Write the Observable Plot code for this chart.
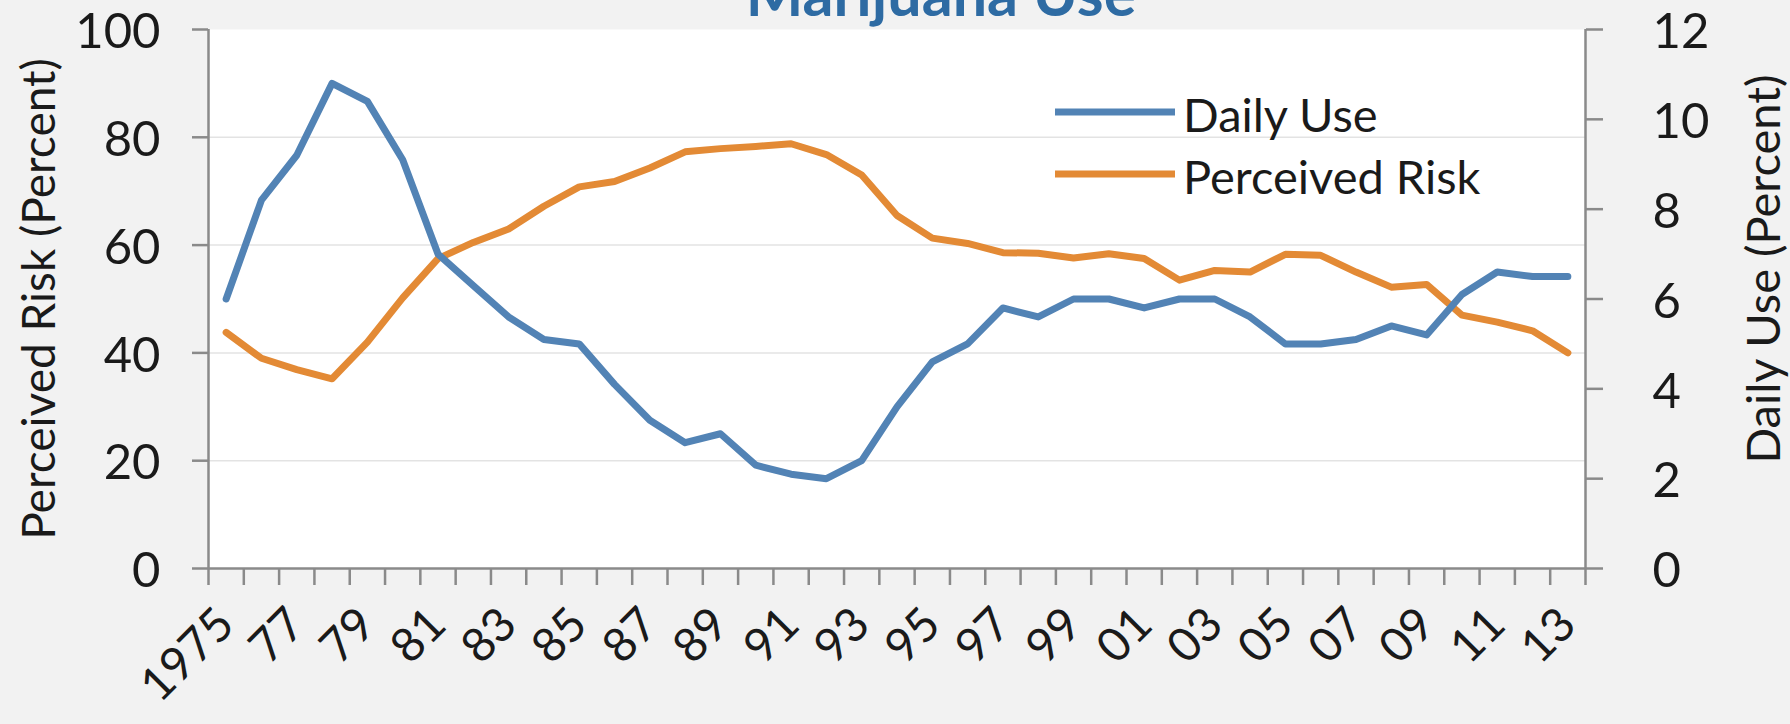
<!DOCTYPE html>
<html>
<head>
<meta charset="utf-8">
<script src="https://cdn.jsdelivr.net/npm/d3@7"></script>
<script src="https://cdn.jsdelivr.net/npm/@observablehq/plot@0.6"></script>
<style>
  html, body { margin: 0; padding: 0; background: #f2f2f2; }
  #wrap { position: relative; width: 1790px; height: 724px; overflow: hidden; background: #f2f2f2; }
  #title { position: absolute; left: 46px; top: -38px; width: 1790px; text-align: center;
           font: bold 61px/61px Lato, "Open Sans", sans-serif; color: #2e6ba3; }
  #chart { position: absolute; left: 0; top: 0; }
  #legend { position: absolute; left: 0; top: 0; pointer-events: none; }
</style>
</head>
<body>
<div id="wrap">
  <div id="chart"></div>
  <div id="title">Marijuana Use</div>
  <div id="legend"></div>
</div>
<script>
// ---- data ----
const years = d3.range(1975, 2014);
const dailyUse = [6.0, 8.2, 9.2, 10.8, 10.4, 9.1, 7.0, 6.3, 5.6, 5.1, 5.0, 4.1, 3.3, 2.8, 3.0, 2.3, 2.1, 2.0, 2.4, 3.6,
                  4.6, 5.0, 5.8, 5.6, 6.0, 6.0, 5.8, 6.0, 6.0, 5.6, 5.0, 5.0, 5.1, 5.4, 5.2, 6.1, 6.6, 6.5, 6.5];
const perceivedRisk = [43.8, 39.0, 36.9, 35.2, 42.0, 50.2, 57.5, 60.5, 63.0, 67.2, 70.8, 71.8, 74.3, 77.3, 77.9, 78.3, 78.8, 76.8, 73.0, 65.5,
                       61.3, 60.3, 58.6, 58.5, 57.6, 58.4, 57.5, 53.5, 55.3, 55.0, 58.3, 58.1, 55.0, 52.2, 52.7, 47.0, 45.7, 44.1, 40.0];
const labelYears = d3.range(1975, 2014, 2);
const labelTexts = ["1975","77","79","81","83","85","87","89","91","93","95","97","99","01","03","05","07","09","11","13"];
const leftTicks = [0, 20, 40, 60, 80, 100];
const rightTicks = [0, 2, 4, 6, 8, 10, 12];
const gridTicks = [20, 40, 60, 80];
const seriesNames = ["Daily Use", "Perceived Risk"];
const leftMax = 100, rightMax = 12;

// ---- styling ----
const blue = "#5283b5", orange = "#e38a35", axisColor = "#8a8a8a", textColor = "#1a1a1a";
const font = "Lato, 'Open Sans', sans-serif";

const toLeft = v => v * leftMax / rightMax;
const rows = years.map((y, i) => ({year: y, daily: toLeft(dailyUse[i]), risk: perceivedRisk[i]}));
const boundaries = d3.range(years[0] - 0.5, years[years.length - 1] + 1, 1);
const xDomain = [years[0] - 0.5, years[years.length - 1] + 0.5];

const plot = Plot.plot({
  width: 1790, height: 724,
  marginLeft: 208, marginRight: 205, marginTop: 29, marginBottom: 156,
  style: {fontFamily: font, background: "transparent", color: textColor},
  x: {type: "linear", domain: xDomain, axis: null},
  y: {domain: [0, leftMax], axis: null},
  marks: [
    Plot.frame({fill: "white", stroke: null}),
    Plot.gridY(gridTicks, {stroke: "#e3e3e3", strokeOpacity: 1, strokeWidth: 1.5}),
    Plot.line(rows, {x: "year", y: "risk", stroke: orange, strokeWidth: 7}),
    Plot.line(rows, {x: "year", y: "daily", stroke: blue, strokeWidth: 7}),
    Plot.ruleX(xDomain, {stroke: axisColor, strokeWidth: 2.5}),
    Plot.ruleY([0], {stroke: axisColor, strokeWidth: 2.5}),
    // left axis ticks + labels
    Plot.axisY(leftTicks, {anchor: "left", tickSize: 16, tickFormat: () => "",
      stroke: axisColor, strokeWidth: 2.5, label: null}),
    Plot.text(leftTicks, {y: d => d, text: d => String(d), frameAnchor: "left", textAnchor: "end",
      lineAnchor: "middle", dx: -48, dy: 3, fontSize: 49, fill: textColor}),
    // right axis ticks + labels
    Plot.axisY(rightTicks.map(toLeft), {anchor: "right", tickSize: 17, tickFormat: () => "",
      stroke: axisColor, strokeWidth: 2.5, label: null}),
    Plot.text(rightTicks, {y: d => toLeft(d), text: d => String(d), frameAnchor: "right", textAnchor: "start",
      lineAnchor: "middle", dx: 67, dy: 3, fontSize: 49, fill: textColor}),
    // x axis ticks + labels
    Plot.axisX(boundaries, {anchor: "bottom", tickSize: 17, tickFormat: () => "",
      stroke: axisColor, strokeWidth: 2.5, label: null}),
    Plot.text(labelYears, {x: d => d, text: (d, i) => labelTexts[i], frameAnchor: "bottom",
      rotate: -45, textAnchor: "end", lineAnchor: "middle", dy: 48, fontSize: 47, fill: textColor}),
    Plot.text(["Perceived Risk (Percent)"], {frameAnchor: "left", textAnchor: "middle", dx: -168, rotate: -90,
      fontSize: 46, fill: textColor}),
    Plot.text(["Daily Use (Percent)"], {frameAnchor: "right", textAnchor: "middle", dx: 179, dy: -30, rotate: -90,
      fontSize: 47, fill: textColor})
  ]
});
document.getElementById("chart").appendChild(plot);

// ---- legend ----
const lg = d3.select("#legend").append("svg").attr("width", 1790).attr("height", 724)
  .style("font-family", font);
const legendColors = [blue, orange];
seriesNames.forEach((name, i) => {
  const cy = 112 + i * 62;
  lg.append("line").attr("x1", 1055).attr("x2", 1175).attr("y1", cy).attr("y2", cy)
    .attr("stroke", legendColors[i]).attr("stroke-width", 7);
  lg.append("text").attr("x", 1183).attr("y", cy + 20).attr("font-size", 47)
    .attr("fill", textColor).text(name);
});
</script>
</body>
</html>
